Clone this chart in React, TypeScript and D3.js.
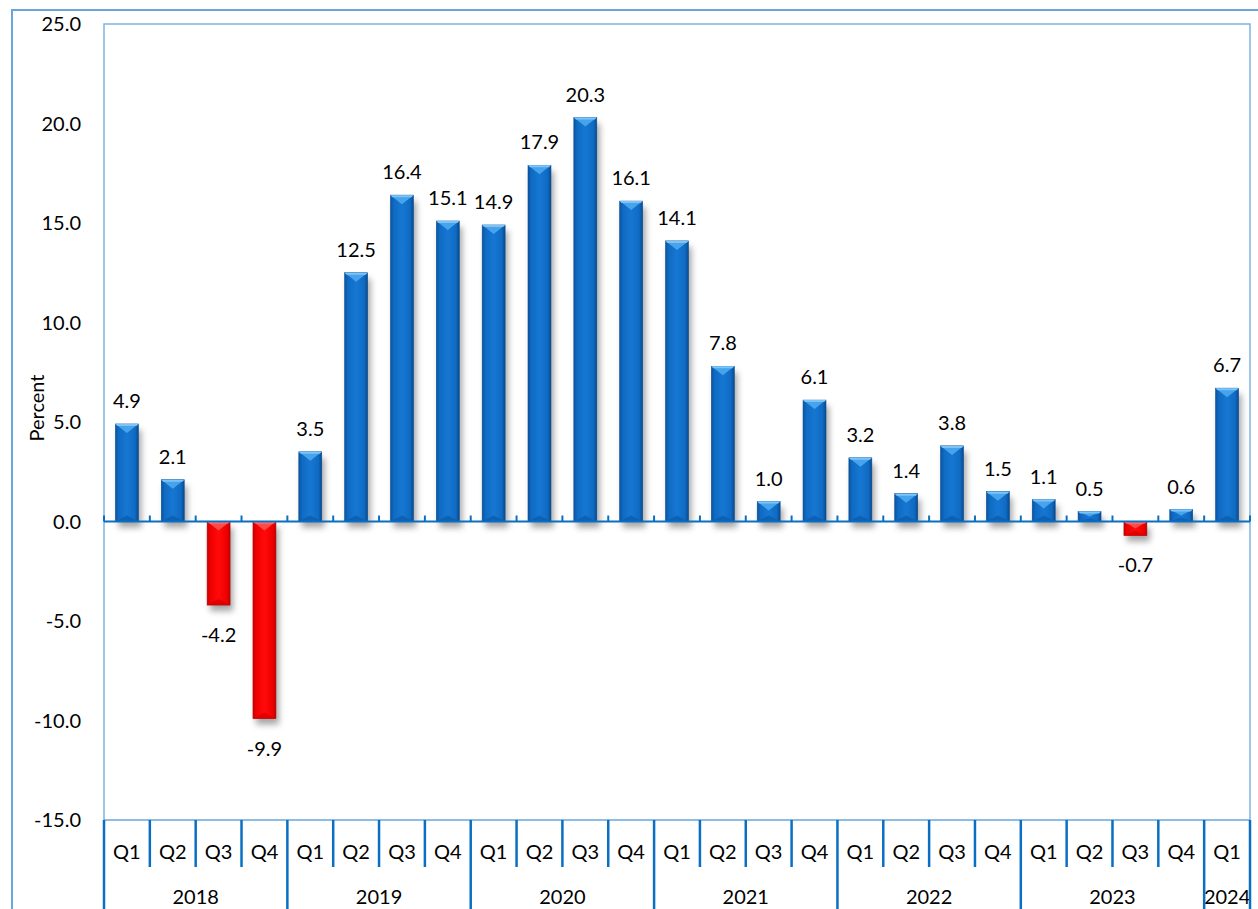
import React, { useRef, useEffect } from "react";
import * as d3 from "d3";

// quarterly change, percent
const quarters = ["Q1", "Q2", "Q3", "Q4", "Q1", "Q2", "Q3", "Q4", "Q1", "Q2", "Q3", "Q4", "Q1", "Q2", "Q3", "Q4", "Q1", "Q2", "Q3", "Q4", "Q1", "Q2", "Q3", "Q4", "Q1"];
const years = ["2018", "2019", "2020", "2021", "2022", "2023", "2024"];
const quartersPerYear = [4, 4, 4, 4, 4, 4, 1];
const values = [4.9, 2.1, -4.2, -9.9, 3.5, 12.5, 16.4, 15.1, 14.9, 17.9, 20.3, 16.1, 14.1, 7.8, 1.0, 6.1, 3.2, 1.4, 3.8, 1.5, 1.1, 0.5, -0.7, 0.6, 6.7];
const yTicks = [25, 20, 15, 10, 5, 0, -5, -10, -15];

const W = 1258;
const H = 909;
const FONT = "Lato, 'Liberation Sans', sans-serif";
const FS = 20;
const fmt = (v: number) => d3.format(".1f")(v).replace("\u2212", "-");

export default function App() {
  const svgRef = useRef<SVGSVGElement>(null);

  useEffect(() => {
    const svg = d3.select(svgRef.current);
    svg.selectAll("*").remove();

    const margin = { left: 104, right: 8, top: 24, bottom: 89 };
    const x = d3
      .scaleBand<number>()
      .domain(d3.range(values.length))
      .range([margin.left, W - margin.right])
      .paddingInner(0.5)
      .paddingOuter(0.25);
    const y = d3.scaleLinear().domain([-15, 25]).range([H - margin.bottom, margin.top]);
    const catW = (W - margin.right - margin.left) / values.length;
    const catX = (i: number) => margin.left + i * catW;

    const defs = svg.append("defs");
    const grad = (id: string, stops: [number, string][]) => {
      const g = defs.append("linearGradient").attr("id", id).attr("x1", 0).attr("x2", 1).attr("y1", 0).attr("y2", 0);
      stops.forEach(([o, c]) => g.append("stop").attr("offset", o).attr("stop-color", c));
    };
    grad("blueG", [[0, "#0a54a3"], [0.15, "#0f6bc3"], [0.5, "#1677d2"], [0.85, "#0f6bc3"], [1, "#094a90"]]);
    grad("redG", [[0, "#d00000"], [0.15, "#f00000"], [0.5, "#ff0a0a"], [0.85, "#f00000"], [1, "#c40000"]]);
    const f = defs.append("filter").attr("id", "shadow").attr("x", "-50%").attr("y", "-50%").attr("width", "200%").attr("height", "200%");
    f.append("feGaussianBlur").attr("stdDeviation", 3);

    // outer frame
    svg
      .append("rect")
      .attr("x", 12)
      .attr("y", 10)
      .attr("width", W)
      .attr("height", H)
      .attr("fill", "none")
      .attr("stroke", "#6aa6dc")
      .attr("stroke-width", 2);

    // plot area border
    svg
      .append("path")
      .attr("d", `M${margin.left},${H} V${margin.top} H${W - margin.right} V${y(-15)}`)
      .attr("fill", "none")
      .attr("stroke", "#7fb4e2")
      .attr("stroke-width", 1.5);
    svg
      .append("line")
      .attr("x1", margin.left)
      .attr("x2", W - margin.right)
      .attr("y1", y(-15))
      .attr("y2", y(-15))
      .attr("stroke", "#6aa6dc")
      .attr("stroke-width", 1.5);

    // y axis labels
    svg
      .append("g")
      .selectAll("text")
      .data(yTicks)
      .join("text")
      .attr("x", 81)
      .attr("y", (d) => y(d))
      .attr("dy", "0.35em")
      .attr("text-anchor", "end")
      .attr("font-family", FONT)
      .attr("font-size", FS)
      .attr("fill", "#000")
      .text((d) => fmt(d));

    svg
      .append("text")
      .attr("transform", `translate(44,${408}) rotate(-90)`)
      .attr("text-anchor", "middle")
      .attr("font-family", FONT)
      .attr("font-size", FS)
      .text("Percent");

    // bars
    const bars = svg.append("g");
    values.forEach((v, i) => {
      const bx = x(i)!;
      const bw = x.bandwidth();
      const y0 = y(0);
      const y1 = y(v);
      const top = Math.min(y0, y1);
      const h = Math.abs(y1 - y0);
      const pos = v >= 0;
      bars
        .append("rect")
        .attr("x", bx + 3)
        .attr("y", top + 6)
        .attr("width", bw)
        .attr("height", h)
        .attr("fill", "rgba(0,0,0,0.35)")
        .attr("filter", "url(#shadow)");
      bars
        .append("rect")
        .attr("x", bx)
        .attr("y", top)
        .attr("width", bw)
        .attr("height", h)
        .attr("fill", pos ? "url(#blueG)" : "url(#redG)")
        .attr("stroke", pos ? "#0a4a8e" : "#a80000")
        .attr("stroke-width", 0.6);
      const bev = Math.min(9, h / 2);
      const farEnd = pos ? y1 : y0;
      bars
        .append("path")
        .attr("d", `M${bx},${farEnd} H${bx + bw} L${bx + bw / 2},${farEnd + bev} Z`)
        .attr("fill", pos ? "#46a3ec" : "#ff4a4a");
      bars
        .append("path")
        .attr("d", `M${bx},${farEnd} H${bx + bw} L${bx + bw - 2},${farEnd + 2} H${bx + 2} Z`)
        .attr("fill", pos ? "#7cc4f7" : "#ff8080");
      // darker wedge at the base
      const nearEnd = pos ? y0 : y1;
      const bev2 = Math.min(6, h / 3);
      bars
        .append("path")
        .attr("d", `M${bx},${nearEnd} H${bx + bw} L${bx + bw / 2},${nearEnd - bev2} Z`)
        .attr("fill", pos ? "#0b5cae" : "#d80000")
        .attr("opacity", 0.8);
    });

    // zero line with small ticks
    const zero = svg.append("g");
    zero
      .append("line")
      .attr("x1", margin.left)
      .attr("x2", W - margin.right)
      .attr("y1", y(0))
      .attr("y2", y(0))
      .attr("stroke", "#0a6fc2")
      .attr("stroke-width", 2);
    zero
      .selectAll("line.tick")
      .data(d3.range(values.length + 1))
      .join("line")
      .attr("class", "tick")
      .attr("x1", (i) => catX(i))
      .attr("x2", (i) => catX(i))
      .attr("y1", y(0))
      .attr("y2", y(0) - 6)
      .attr("stroke", "#0a6fc2")
      .attr("stroke-width", 2);

    // data labels
    svg
      .append("g")
      .selectAll("text")
      .data(values)
      .join("text")
      .attr("x", (_, i) => x(i)! + x.bandwidth() / 2)
      .attr("y", (d) => (d >= 0 ? y(d) - 16 : y(d) + 37))
      .attr("text-anchor", "middle")
      .attr("font-family", FONT)
      .attr("font-size", FS)
      .attr("fill", "#000")
      .text((d) => fmt(d));

    // category axis: quarters
    const axisY = y(-15);
    const qg = svg.append("g");
    qg.selectAll("text")
      .data(quarters)
      .join("text")
      .attr("x", (_, i) => catX(i) + catW / 2)
      .attr("y", axisY + 39)
      .attr("text-anchor", "middle")
      .attr("font-family", FONT)
      .attr("font-size", FS)
      .text((d) => d);
    qg.selectAll("line")
      .data(d3.range(values.length + 1))
      .join("line")
      .attr("x1", (i) => catX(i))
      .attr("x2", (i) => catX(i))
      .attr("y1", axisY)
      .attr("y2", axisY + 47)
      .attr("stroke", "#0a6fc2")
      .attr("stroke-width", 2.5);

    // years
    const starts = quartersPerYear.map((_, k) => d3.sum(quartersPerYear.slice(0, k)));
    const yg = svg.append("g");
    yg.selectAll("text")
      .data(years)
      .join("text")
      .attr("x", (_, k) => catX(starts[k]) + (quartersPerYear[k] * catW) / 2)
      .attr("y", axisY + 84)
      .attr("text-anchor", "middle")
      .attr("font-family", FONT)
      .attr("font-size", FS)
      .text((d) => d);
    yg.selectAll("line")
      .data([...starts, values.length])
      .join("line")
      .attr("x1", (i) => catX(i))
      .attr("x2", (i) => catX(i))
      .attr("y1", axisY + 47)
      .attr("y2", H)
      .attr("stroke", "#0a6fc2")
      .attr("stroke-width", 2.5);
  }, []);

  return (
    <svg
      ref={svgRef}
      width={W}
      height={H}
      style={{ position: "absolute", left: 0, top: 0, background: "#fff" }}
    />
  );
}
